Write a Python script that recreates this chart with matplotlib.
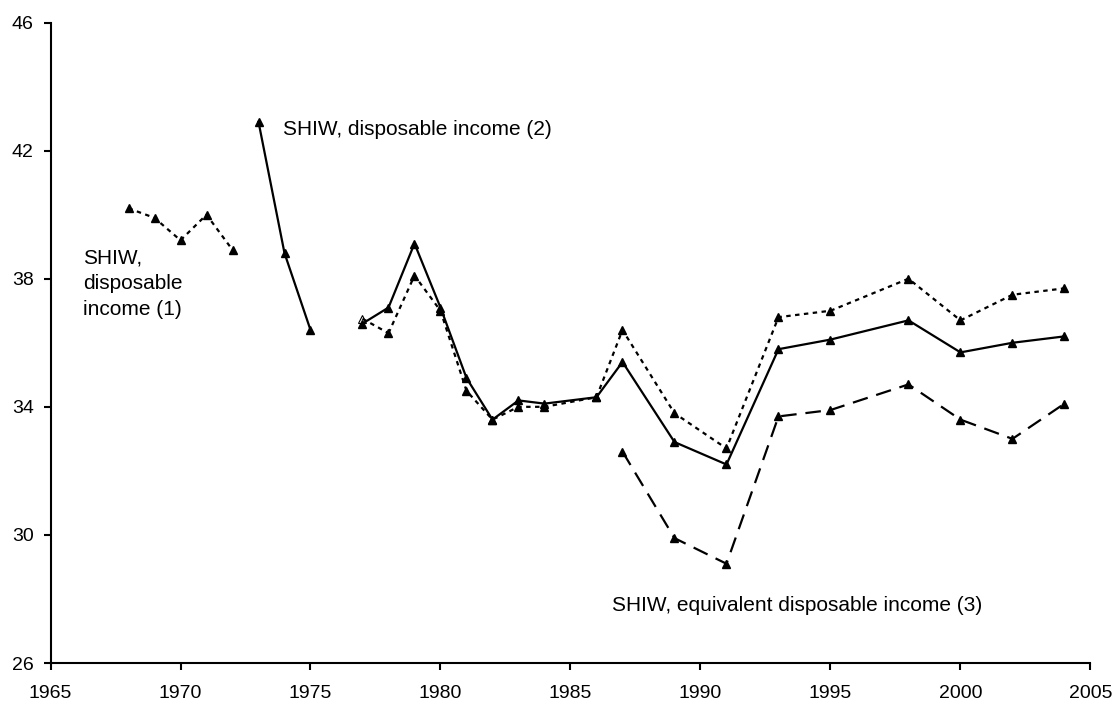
import matplotlib.pyplot as plt
import numpy as np

plt.rcParams['font.family'] = ['Liberation Sans', 'DejaVu Sans']

# SHIW, disposable income (1)
years_1 = [1968, 1969, 1970, 1971, 1972]
vals_1 = [40.2, 39.9, 39.2, 40.0, 38.9]

# SHIW, disposable income (2), gap in 1976
years_2 = [1973, 1974, 1975, 1976, 1977, 1978, 1979, 1980, 1981, 1982, 1983,
           1984, 1986, 1987, 1989, 1991, 1993, 1995, 1998, 2000, 2002, 2004]
vals_2 = [42.9, 38.8, 36.4, np.nan, 36.6, 37.1, 39.1, 37.1, 34.9, 33.6, 34.2,
          34.1, 34.3, 35.4, 32.9, 32.2, 35.8, 36.1, 36.7, 35.7, 36.0, 36.2]

# dotted series from 1977 on
years_d = [1977, 1978, 1979, 1980, 1981, 1982, 1983, 1984, 1986, 1987,
           1989, 1991, 1993, 1995, 1998, 2000, 2002, 2004]
vals_d = [36.75, 36.3, 38.1, 37.0, 34.5, 33.6, 34.0, 34.0, 34.3, 36.4,
          33.8, 32.7, 36.8, 37.0, 38.0, 36.7, 37.5, 37.7]

# SHIW, equivalent disposable income (3)
years_3 = [1987, 1989, 1991, 1993, 1995, 1998, 2000, 2002, 2004]
vals_3 = [32.6, 29.9, 29.1, 33.7, 33.9, 34.7, 33.6, 33.0, 34.1]

x_ticks = [1965, 1970, 1975, 1980, 1985, 1990, 1995, 2000, 2005]
y_ticks = [26, 30, 34, 38, 42, 46]

fig = plt.figure(figsize=(11.15, 7.04), dpi=100)
ax = fig.add_axes([0.0453, 0.0582, 0.9327, 0.9098])

lw = 1.6
ms = 6.2
dot_style = (0, (2.0, 2.0))
dash_style = (0, (7, 4))

ax.plot(years_1, vals_1, color='black', lw=lw, linestyle=dot_style,
        marker='^', ms=ms, zorder=3)
ax.plot(years_d[1:], vals_d[1:], color='black', lw=lw, linestyle=dot_style,
        marker='^', ms=ms, zorder=3)
ax.plot(years_d[:2], vals_d[:2], color='black', lw=lw, linestyle=dot_style, zorder=3)
ax.plot(years_d[:1], vals_d[:1], linestyle='none', marker='^', ms=ms,
        mfc='white', mec='black', mew=0.8, zorder=2)
ax.plot(years_2, vals_2, color='black', lw=lw, linestyle='-',
        marker='^', ms=ms, zorder=4)
ax.plot(years_3, vals_3, color='black', lw=lw, linestyle=dash_style,
        marker='^', ms=ms, zorder=3)

ax.text(1973.95, 42.65, 'SHIW, disposable income (2)', fontsize=15,
        ha='left', va='center')
ax.text(1966.25, 37.85, 'SHIW,\ndisposable\nincome (1)', fontsize=15,
        ha='left', va='center', linespacing=1.45)
ax.text(1986.6, 27.8, 'SHIW, equivalent disposable income (3)', fontsize=15,
        ha='left', va='center')

ax.set_xlim(1965, 2005)
ax.set_ylim(26, 46)
ax.set_xticks(x_ticks)
ax.set_yticks(y_ticks)
ax.tick_params(axis='both', direction='out', length=5, width=1.5,
               labelsize=14)
ax.tick_params(axis='x', pad=11)
ax.tick_params(axis='y', pad=7)
for s in ['top', 'right']:
    ax.spines[s].set_visible(False)
for s in ['left', 'bottom']:
    ax.spines[s].set_linewidth(1.5)

fig.savefig('out.png', dpi=100, facecolor='white')
